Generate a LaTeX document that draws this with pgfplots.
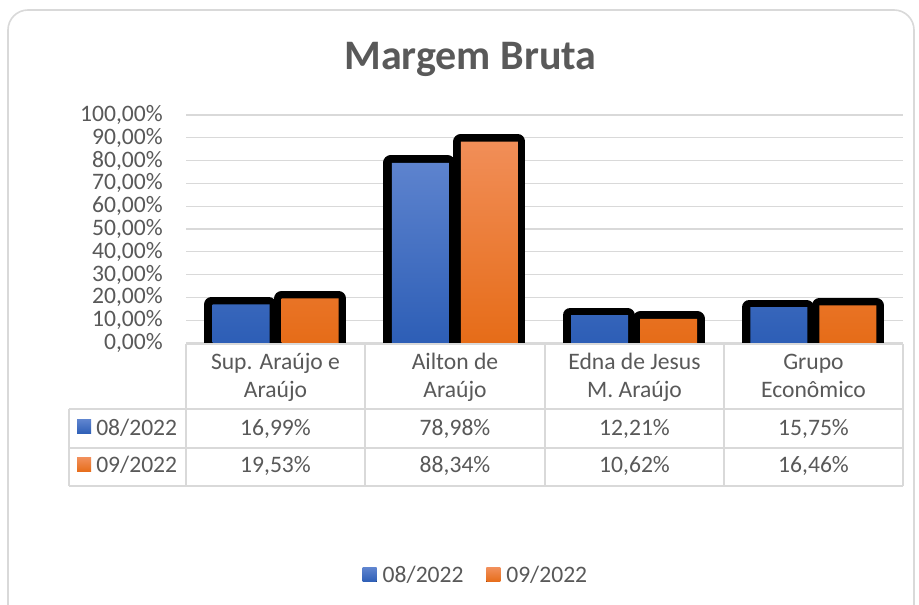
\documentclass[border=0pt]{standalone}
\usepackage{pgfplots}
\pgfplotsset{compat=1.18}
\usepackage{pgfplotstable}
\usepackage{fontspec}
\setmainfont{Carlito}
\definecolor{txt}{HTML}{595959}
\definecolor{gridc}{HTML}{D9D9D9}
\definecolor{btop}{RGB}{93,131,206}
\definecolor{bmid}{RGB}{68,114,196}
\definecolor{bbot}{RGB}{45,94,182}
\definecolor{otop}{RGB}{241,142,88}
\definecolor{omid}{RGB}{243,128,44}
\definecolor{obot}{RGB}{230,108,24}

\pgfplotstableread{
x a b
0 16.99 19.53
1 78.98 88.34
2 12.21 10.62
3 15.75 16.46
}\data

\newcommand\tf{\fontsize{17.7}{21}\selectfont}

\begin{document}
\begin{tikzpicture}
\useasboundingbox (0,0) rectangle (689.25pt,453.75pt);
\fill[white] (0,0) rectangle (689.25pt,453.75pt);
\begin{scope}[yshift=453.75pt,x=0.75pt,y=-0.75pt]
  \draw[gridc, line width=1.2pt, rounded corners=15pt] (8,10) rectangle (914,640);
  \node[anchor=base, inner sep=0pt, text=txt, font=\fontsize{31.5}{36}\selectfont\bfseries] at (470.5,70) {Margem Bruta};
\end{scope}
\begin{axis}[
  at={(139.5pt,196.5pt)}, anchor=south west,
  scale only axis, width=537.75pt, height=171pt,
  xmin=-0.5, xmax=3.5, ymin=0, ymax=100,
  xtick=\empty, ytick={0,10,...,100},
  ymajorgrids, grid style={gridc, line width=0.9pt},
  axis line style={draw=none}, major tick length=0pt,
  ybar, bar width=42.75pt,
  /pgf/number format/assume math mode=true,
  yticklabel={\pgfmathprintnumber[fixed,fixed zerofill,precision=2,use comma]{\tick}\%},
  tick label style={font=\tf, text=txt},
  yticklabel style={inner sep=0pt, xshift=-17.25pt},
  legend style={at={(0.403,-1.0175)}, anchor=center, draw=none, fill=none,
    legend columns=2, font=\tf, text=txt, inner sep=0pt,
    nodes={inner sep=0pt},
    /tikz/every odd column/.append style={column sep=4.5pt},
    /tikz/every even column/.append style={column sep=17pt}},
  mylegend/.style={legend image code/.code={\fill[##1,draw=none] (0pt,-5.25pt) rectangle (10.5pt,5.25pt);}},
]
\addplot[fill=black, draw=black, line width=11.25pt, line join=round, bar shift=-26.6pt, forget plot] table[x=x,y=a]{\data};
\addplot[draw=none, top color=btop, middle color=bmid, bottom color=bbot, bar shift=-25.875pt, mylegend] table[x=x,y=a]{\data};
\addplot[fill=black, draw=black, line width=11.25pt, line join=round, bar shift=25.875pt, forget plot] table[x=x,y=b]{\data};
\addplot[draw=none, top color=otop, middle color=omid, bottom color=obot, bar shift=25.875pt, mylegend] table[x=x,y=b]{\data};
\legend{08/2022, 09/2022}
\end{axis}
\begin{scope}[yshift=453.75pt,x=0.75pt,y=-0.75pt]
  \begin{scope}[gridc, line width=1.1pt]
    \draw (186,344) -- (903,344);
    \draw (69,409) -- (903,409);
    \draw (69,448) -- (903,448);
    \draw (69,486) -- (903,486);
    \foreach \xx in {186,365,545,724,903} \draw (\xx,344) -- (\xx,486);
    \draw (69,409) -- (69,486);
  \end{scope}
  \begin{scope}[every node/.style={anchor=base, inner sep=0pt, text=txt, font=\tf}]
    \node at (275.5,370) {Sup. Araújo e};
    \node at (275.5,398) {Araújo};
    \node at (455,370) {Ailton de};
    \node at (455,398) {Araújo};
    \node at (634.5,370) {Edna de Jesus};
    \node at (634.5,398) {M. Araújo};
    \node at (813.5,370) {Grupo};
    \node at (813.5,398) {Econômico};
    \node at (275.5,436) {16,99\%};
    \node at (455,436) {78,98\%};
    \node at (634.5,436) {12,21\%};
    \node at (813.5,436) {15,75\%};
    \node at (275.5,473) {19,53\%};
    \node at (455,473) {88,34\%};
    \node at (634.5,473) {10,62\%};
    \node at (813.5,473) {16,46\%};
    \node[anchor=base west] at (96,436) {08/2022};
    \node[anchor=base west] at (96,473) {09/2022};
  \end{scope}
  \fill[top color=btop, middle color=bmid, bottom color=bbot] (77,420) rectangle (91,434);
  \fill[top color=otop, middle color=omid, bottom color=obot] (77,458) rectangle (91,472);
\end{scope}
\end{tikzpicture}
\end{document}
